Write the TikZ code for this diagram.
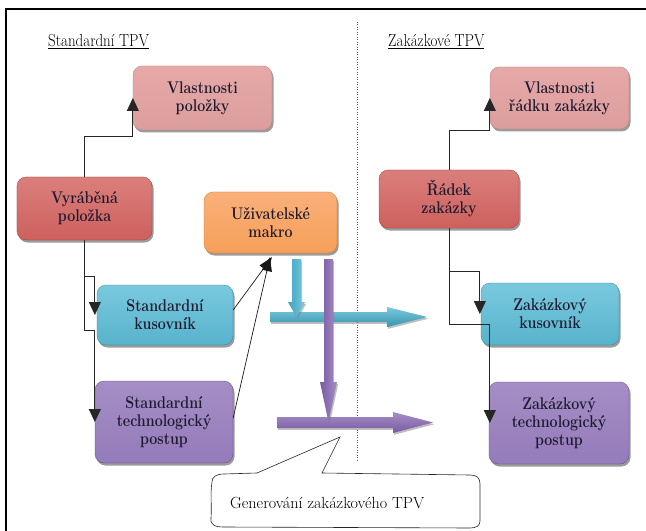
\documentclass[tikz,border=0pt]{standalone}
\usepackage{fontspec}
\newfontfamily\narrowserif{Latin Modern Roman}[FakeStretch=0.86]
\newfontfamily\boxserif{Latin Modern Roman}[FakeStretch=0.84]
\newfontfamily\lmserif{Latin Modern Roman}
\usetikzlibrary{shadows,arrows.meta,calc}

\definecolor{pinkT}{HTML}{E7A9A8}
\definecolor{pinkM}{HTML}{F3D6D5}
\definecolor{pinkB}{HTML}{DB9E9D}
\definecolor{redT}{HTML}{DA7F7C}
\definecolor{redM}{HTML}{C64B48}
\definecolor{redB}{HTML}{CE605D}
\definecolor{orT}{HTML}{FAB07A}
\definecolor{orM}{HTML}{F78F3A}
\definecolor{orB}{HTML}{F69F58}
\definecolor{blT}{HTML}{7AC9DE}
\definecolor{blM}{HTML}{3FA4C1}
\definecolor{blB}{HTML}{57B3CC}
\definecolor{puT}{HTML}{A58EC5}
\definecolor{puM}{HTML}{7A5AA3}
\definecolor{puB}{HTML}{947BBA}
\definecolor{boxtext}{HTML}{1E1B30}

\tikzset{
  box/.style={rounded corners=9bp, align=center, inner sep=0pt,
    font=\boxserif\fontsize{17}{18}\selectfont\bfseries, text=boxtext,
    line width=0.3bp,
    drop shadow={shadow xshift=1.5bp, shadow yshift=-2.5bp, fill=black!60, opacity=0.65}},
  pinkbox/.style={box, draw=pinkB!80!black, top color=pinkT, middle color=pinkM, bottom color=pinkB},
  redbox/.style={box, draw=redM!80!black, top color=redT, middle color=redM, bottom color=redB},
  orbox/.style={box, draw=orM!85!black, top color=orT, middle color=orM, bottom color=orB},
  bluebox/.style={box, draw=blM!80!black, top color=blT, middle color=blM, bottom color=blB},
  purbox/.style={box, draw=puM!80!black, top color=puT, middle color=puM, bottom color=puB},
  conn/.style={line width=0.8bp, black!85, -{Triangle[length=13bp,width=12bp]}},
  thinconn/.style={line width=0.7bp, black!90, -{Triangle[length=14bp,width=10bp]}},
  heading/.style={anchor=base west, inner sep=0pt, font=\narrowserif\fontsize{17.5}{18}\selectfont},
  blockshadow/.style={drop shadow={shadow xshift=1.2bp, shadow yshift=-1.8bp, fill=black!50, opacity=0.5}}
}

\begin{document}
\begin{tikzpicture}[x=1bp,y=-1bp]
\useasboundingbox (0,0) rectangle (646,531);
\fill[white] (0,0) rectangle (646,531);

% outer frame
\draw[line width=1.2bp] (6,531) -- (6,9) -- (646,9);

% dividing line between the two halves
\draw[black!65, line width=1bp, dash pattern=on 1bp off 1.5bp] (357,22) -- (357,461);

% headings
\node[heading] (hstd) at (48,47) {\underline{Standardní TPV}};
\node[heading] (hzak) at (388,47) {\underline{Zakázkové TPV}};

% block arrows of the generation step
\shade[blockshadow, top color=blT, bottom color=blM!90!black]
  (270,312) -- (387,312) -- (387,307) -- (427,317) -- (387,327) -- (387,322) -- (270,322) -- cycle;
\shade[blockshadow, left color=blM, right color=blT]
  (292,259) -- (301,259) -- (301,302) -- (305,302) -- (296.5,317) -- (288,302) -- (292,302) -- cycle;
\shade[blockshadow, top color=puT, bottom color=puM]
  (277,417) -- (393,417) -- (393,412) -- (433,422.5) -- (393,433) -- (393,428) -- (277,428) -- cycle;
\shade[blockshadow, left color=puM, right color=puT]
  (324,259) -- (333,259) -- (333,382) -- (337,382) -- (328.5,422) -- (320,382) -- (324,382) -- cycle;

% standard side
\node[pinkbox, minimum width=139bp, minimum height=64bp] (vlp) at (202.5,98) {Vlastnosti\\položky};
\node[redbox, minimum width=135bp, minimum height=63bp] (vyr) at (84.5,208.5) {Vyráběná\\položka};
\node[orbox, minimum width=133bp, minimum height=61bp] (mak) at (270.5,222.5) {Uživatelské\\makro};
\node[bluebox, minimum width=136bp, minimum height=60bp] (sku) at (165,315) {Standardní\\kusovník};
\node[purbox, minimum width=138bp, minimum height=82bp] (stp) at (164,422) {Standardní\\technologický\\postup};

% custom-order side
\node[pinkbox, minimum width=139bp, minimum height=62bp] (vlr) at (559.5,98) {Vlastnosti\\řádku zakázky};
\node[redbox, minimum width=140bp, minimum height=58bp] (rad) at (449,199) {Řádek\\zakázky};
\node[bluebox, minimum width=138bp, minimum height=62bp] (zku) at (550,314) {Zakázkový\\kusovník};
\node[purbox, minimum width=140bp, minimum height=82bp] (ztp) at (559,423) {Zakázkový\\technologický\\postup};

% elbow connectors, standard side
\draw[conn] (vyr.north) -- ++(0,-40) -| (vlp.west);
\draw[conn] (vyr.south) -- ++(0,36) -| ([xshift=-2bp]sku.west);
\draw[conn] (vyr.south) -- ++(0,90) -| (stp.west);

% elbow connectors, custom-order side
\draw[conn] (rad.north) -- ++(0,-39) -| (vlr.west);
\draw[conn] (rad.south) -- ++(0,43) -| ([xshift=-1bp]zku.west);
\draw[conn] (rad.south) -- ++(0,96) -| ([xshift=1bp]ztp.west);

% inputs of the user macro
\draw[thinconn] ([yshift=5bp]sku.east) -- ([xshift=1.5bp,yshift=-4bp]mak.south);
\draw[thinconn] ([yshift=4bp]stp.east) -- ([xshift=-0.5bp,yshift=-4bp]mak.south);

% callout
\draw[black!85, line width=0.6bp, fill=white]
  (212,482) .. controls (212,477) and (216,474) .. (224,474) -- (257,473) -- (340,437)
  -- (322,473) -- (470,475) .. controls (477,475) and (480,478) .. (480,484)
  -- (480,521) .. controls (480,526) and (476,528) .. (470,528)
  -- (224,527) .. controls (215,527) and (210,525) .. (211,518)
  .. controls (212,505) and (210,495) .. (212,482) -- cycle;
\node[anchor=base west, inner sep=0pt, font=\lmserif\fontsize{16.2}{18}\selectfont] (gen) at (230,508) {Generování zakázkového TPV};
\end{tikzpicture}
\end{document}
